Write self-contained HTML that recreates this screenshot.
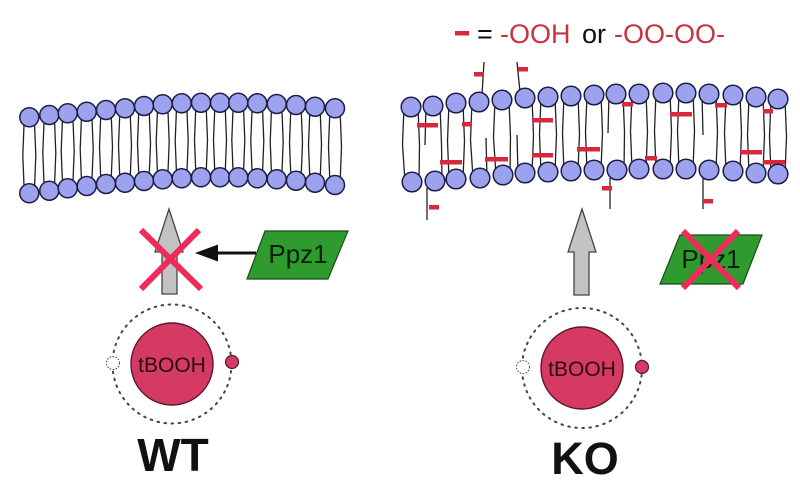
<!DOCTYPE html>
<html><head><meta charset="utf-8"><style>
html,body{margin:0;padding:0;background:#fff;}
svg{display:block;}
</style></head><body>
<svg width="800" height="492" viewBox="0 0 800 492" xmlns="http://www.w3.org/2000/svg">
<rect width="800" height="492" fill="#fff"/>

<!-- Legend -->
<rect x="455" y="31" width="14" height="4.5" fill="#d9283c"/>
<g font-family="Liberation Sans, Arial, sans-serif" font-size="27">
<text x="477" y="43" fill="#111">=</text>
<text x="500" y="43" fill="#c8333f">-OOH</text>
<text x="582" y="43" fill="#111">or</text>
<text x="614" y="43" fill="#c8333f">-OO-OO-</text>
</g>

<!-- Left membrane tails -->
<g fill="none" stroke="#222" stroke-width="1.3">
<path d="M24.3 117.3 L22.8 155.3 L24.3 193.3 M34.3 117.3 L35.8 155.3 L34.3 193.3"/>
<path d="M44.3 115 L42.8 152.9 L44.3 190.7 M54.3 115 L55.8 152.9 L54.3 190.7"/>
<path d="M62.7 113.3 L61.2 150.8 L62.7 188.3 M72.7 113.3 L74.2 150.8 L72.7 188.3"/>
<path d="M81.7 111.7 L80.2 148.9 L81.7 186 M91.7 111.7 L93.2 148.9 L91.7 186"/>
<path d="M101 110 L99.5 147 L101 184 M111 110 L112.5 147 L111 184"/>
<path d="M120 108.3 L118.5 145.5 L120 182.7 M130 108.3 L131.5 145.5 L130 182.7"/>
<path d="M139 106 L137.5 143.5 L139 181 M149 106 L150.5 143.5 L149 181"/>
<path d="M157.7 104.3 L156.2 141.8 L157.7 179.3 M167.7 104.3 L169.2 141.8 L167.7 179.3"/>
<path d="M176.7 103.3 L175.2 140.8 L176.7 178.3 M186.7 103.3 L188.2 140.8 L186.7 178.3"/>
<path d="M196 102.7 L194.5 140 L196 177.3 M206 102.7 L207.5 140 L206 177.3"/>
<path d="M215 102.7 L213.5 140 L215 177.3 M225 102.7 L226.5 140 L225 177.3"/>
<path d="M233.3 102.7 L231.8 140 L233.3 177.3 M243.3 102.7 L244.8 140 L243.3 177.3"/>
<path d="M252.3 103.3 L250.8 140.8 L252.3 178.3 M262.3 103.3 L263.8 140.8 L262.3 178.3"/>
<path d="M271.7 104 L270.2 141.7 L271.7 179.3 M281.7 104 L283.2 141.7 L281.7 179.3"/>
<path d="M291 105 L289.5 142.9 L291 180.7 M301 105 L302.5 142.9 L301 180.7"/>
<path d="M310 106.7 L308.5 144.7 L310 182.7 M320 106.7 L321.5 144.7 L320 182.7"/>
<path d="M330 108.3 L328.5 146.7 L330 185 M340 108.3 L341.5 146.7 L340 185"/>
</g>

<!-- Left membrane heads -->
<g fill="#9ca2ee" stroke="#1c1c44" stroke-width="1.5">
<circle cx="29.3" cy="117.3" r="9.5"/><circle cx="49.3" cy="115" r="9.5"/><circle cx="67.7" cy="113.3" r="9.5"/><circle cx="86.7" cy="111.7" r="9.5"/><circle cx="106" cy="110" r="9.5"/><circle cx="125" cy="108.3" r="9.5"/><circle cx="144" cy="106" r="9.5"/><circle cx="162.7" cy="104.3" r="9.5"/><circle cx="181.7" cy="103.3" r="9.5"/><circle cx="201" cy="102.7" r="9.5"/><circle cx="220" cy="102.7" r="9.5"/><circle cx="238.3" cy="102.7" r="9.5"/><circle cx="257.3" cy="103.3" r="9.5"/><circle cx="276.7" cy="104" r="9.5"/><circle cx="296" cy="105" r="9.5"/><circle cx="315" cy="106.7" r="9.5"/><circle cx="335" cy="108.3" r="9.5"/>
<circle cx="29.3" cy="193.3" r="9.5"/><circle cx="49.3" cy="190.7" r="9.5"/><circle cx="67.7" cy="188.3" r="9.5"/><circle cx="86.7" cy="186" r="9.5"/><circle cx="106" cy="184" r="9.5"/><circle cx="125" cy="182.7" r="9.5"/><circle cx="144" cy="181" r="9.5"/><circle cx="162.7" cy="179.3" r="9.5"/><circle cx="181.7" cy="178.3" r="9.5"/><circle cx="201" cy="177.3" r="9.5"/><circle cx="220" cy="177.3" r="9.5"/><circle cx="238.3" cy="177.3" r="9.5"/><circle cx="257.3" cy="178.3" r="9.5"/><circle cx="276.7" cy="179.3" r="9.5"/><circle cx="296" cy="180.7" r="9.5"/><circle cx="315" cy="182.7" r="9.5"/><circle cx="335" cy="185" r="9.5"/>
</g>

<!-- Right membrane tails -->
<g fill="none" stroke="#222" stroke-width="1.3">
<path d="M404 107 L402.5 144.5 L405 182 M418 107 L419.5 144.5 L419 182"/>
<path d="M426 106 L425 145 M440 106 L441.5 143.5 L442 181"/>
<path d="M449 103 L447.5 141 L449 179 M463 103 L464.5 141 L463 179"/>
<path d="M472 102 L470.5 140 L473 178 M486 138 L487 178"/>
<path d="M495 100 L493.5 137.5 L496 175 M509 100 L510.5 137.5 L510 175"/>
<path d="M517 135 L518 173 M532 98 L533.5 135.5 L532 173"/>
<path d="M541 97 L539.5 134.5 L541 172 M555 97 L556.5 134.5 L555 172"/>
<path d="M564 96 L562.5 133.5 L564 171 M578 96 L579.5 133.5 L578 171"/>
<path d="M587 95 L585.5 132.5 L587 170 M601 95 L602.5 132.5 L601 170"/>
<path d="M609 94 L608 133 M623 94 L624.5 132 L624 170"/>
<path d="M632 94 L630.5 131.5 L632 169 M646 94 L647.5 131.5 L646 169"/>
<path d="M656 93 L654.5 131 L656 169 M670 93 L671.5 131 L670 169"/>
<path d="M679 93 L677.5 131 L679 169 M693 93 L694.5 131 L693 169"/>
<path d="M702 94 L703 135 M716 94 L717.5 132 L716 170"/>
<path d="M726 95 L724.5 133 L726 171 M740 95 L741.5 133 L740 171"/>
<path d="M749 97 L747.5 135 L749 173 M763 97 L764.5 135 L763 173"/>
<path d="M771 99 L769.5 136.5 L771 174 M785 99 L786.5 136.5 L785 174"/>
<path d="M484 62 L482 95"/>
<path d="M517 62 L520 92"/>
<path d="M427 188 L427 220"/>
<path d="M610 178 L610 209"/>
<path d="M703 178 L703 209"/>
</g>

<!-- Red oxidation marks -->
<g fill="#d9283c">
<rect x="474" y="72" width="10" height="4.5"/>
<rect x="518" y="67" width="10" height="4.5"/>
<rect x="429" y="205" width="10" height="4.5"/>
<rect x="602" y="186" width="10" height="4.5"/>
<rect x="703" y="199" width="10" height="4.5"/>
<rect x="417" y="123" width="21" height="4.5"/>
<rect x="440" y="160" width="22" height="4.5"/>
<rect x="462" y="122" width="10" height="4.5"/>
<rect x="485" y="157" width="23" height="4.5"/>
<rect x="532" y="118" width="21" height="4.5"/>
<rect x="532" y="153" width="21" height="4.5"/>
<rect x="577" y="147" width="23" height="4.5"/>
<rect x="622" y="102" width="11" height="4.5"/>
<rect x="645" y="156" width="12" height="4.5"/>
<rect x="670" y="112" width="22" height="4.5"/>
<rect x="715" y="103" width="12" height="4.5"/>
<rect x="740" y="150" width="22" height="4.5"/>
<rect x="763" y="109" width="10" height="4.5"/>
<rect x="763" y="160" width="22" height="4.5"/>
</g>

<!-- Right membrane heads -->
<g fill="#9ca2ee" stroke="#1c1c44" stroke-width="1.5">
<circle cx="411" cy="107" r="9.8"/><circle cx="433" cy="106" r="9.8"/><circle cx="456" cy="103" r="9.8"/><circle cx="479" cy="102" r="9.8"/><circle cx="502" cy="100" r="9.8"/><circle cx="525" cy="98" r="9.8"/><circle cx="548" cy="97" r="9.8"/><circle cx="571" cy="96" r="9.8"/><circle cx="594" cy="95" r="9.8"/><circle cx="616" cy="94" r="9.8"/><circle cx="639" cy="94" r="9.8"/><circle cx="663" cy="93" r="9.8"/><circle cx="686" cy="93" r="9.8"/><circle cx="709" cy="94" r="9.8"/><circle cx="733" cy="95" r="9.8"/><circle cx="756" cy="97" r="9.8"/><circle cx="778" cy="99" r="9.8"/>
<circle cx="412" cy="182" r="9.8"/><circle cx="435" cy="181" r="9.8"/><circle cx="456" cy="179" r="9.8"/><circle cx="480" cy="178" r="9.8"/><circle cx="503" cy="175" r="9.8"/><circle cx="525" cy="173" r="9.8"/><circle cx="548" cy="172" r="9.8"/><circle cx="571" cy="171" r="9.8"/><circle cx="594" cy="170" r="9.8"/><circle cx="617" cy="170" r="9.8"/><circle cx="639" cy="169" r="9.8"/><circle cx="663" cy="169" r="9.8"/><circle cx="686" cy="169" r="9.8"/><circle cx="709" cy="170" r="9.8"/><circle cx="733" cy="171" r="9.8"/><circle cx="756" cy="173" r="9.8"/><circle cx="778" cy="174" r="9.8"/>
</g>

<!-- Gray arrows -->
<polygon points="169,209 183,252 177,252 177,294 162,294 162,252 155,252" fill="#c2c2c2" stroke="#444" stroke-width="1.3"/>
<polygon points="582,209 596,252 589,252 589,295 574,295 574,252 568,252" fill="#c2c2c2" stroke="#444" stroke-width="1.3"/>

<!-- Ppz1 left -->
<polygon points="265,231 348,231 328,279 247,279" fill="#2f9a2e" stroke="#1b4a1b" stroke-width="1.2"/>
<text x="298" y="263" text-anchor="middle" font-family="Liberation Sans, Arial, sans-serif" font-size="26" fill="#0a1f0a">Ppz1</text>

<!-- Black inhibition arrow -->
<line x1="256" y1="253" x2="214" y2="253" stroke="#111" stroke-width="3"/>
<polygon points="195,253 218,244.5 218,261.5" fill="#111"/>

<!-- Left red X -->
<g stroke="#ee2c5a" stroke-width="6">
<line x1="141" y1="230" x2="201" y2="289"/>
<line x1="199" y1="230" x2="141" y2="289"/>
</g>

<!-- Ppz1 right -->
<polygon points="680,235 762,235 743,284 660,284" fill="#2f9a2e" stroke="#1b4a1b" stroke-width="1.2"/>
<text x="711" y="268" text-anchor="middle" font-family="Liberation Sans, Arial, sans-serif" font-size="26" fill="#0a1f0a">Ppz1</text>
<g stroke="#ee2c5a" stroke-width="6">
<line x1="683" y1="231" x2="739" y2="288"/>
<line x1="738" y1="231" x2="683" y2="288"/>
</g>

<!-- tBOOH left -->
<circle cx="172" cy="364" r="59.5" fill="none" stroke="#444" stroke-width="2" stroke-dasharray="1.6 5.5" stroke-linecap="round"/>
<circle cx="172" cy="364" r="41" fill="#d53a62" stroke="#5a1830" stroke-width="1.4"/>
<text x="172" y="372" text-anchor="middle" font-family="Liberation Sans, Arial, sans-serif" font-size="21" fill="#2a0c16">tBOOH</text>
<circle cx="113" cy="363" r="6.5" fill="#fff" stroke="#444" stroke-width="1" stroke-dasharray="1.5 1.5"/>
<circle cx="232" cy="362" r="6.5" fill="#d53a62" stroke="#5a1830" stroke-width="1.2"/>

<!-- tBOOH right -->
<circle cx="582" cy="368" r="60" fill="none" stroke="#444" stroke-width="2" stroke-dasharray="1.6 5.5" stroke-linecap="round"/>
<circle cx="582" cy="368" r="41" fill="#d53a62" stroke="#5a1830" stroke-width="1.4"/>
<text x="582" y="376" text-anchor="middle" font-family="Liberation Sans, Arial, sans-serif" font-size="21" fill="#2a0c16">tBOOH</text>
<circle cx="523" cy="367" r="6.5" fill="#fff" stroke="#444" stroke-width="1" stroke-dasharray="1.5 1.5"/>
<circle cx="642" cy="367" r="6.5" fill="#d53a62" stroke="#5a1830" stroke-width="1.2"/>

<!-- Labels -->
<text x="173" y="471" text-anchor="middle" font-family="Liberation Sans, Arial, sans-serif" font-weight="bold" font-size="46" fill="#111">WT</text>
<text x="585" y="474" text-anchor="middle" font-family="Liberation Sans, Arial, sans-serif" font-weight="bold" font-size="45" fill="#111">KO</text>
</svg>
</body></html>
